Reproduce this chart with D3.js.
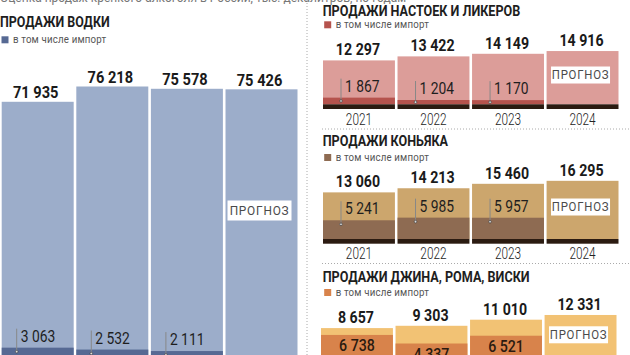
<!DOCTYPE html>
<html><head><meta charset="utf-8">
<script src="https://cdn.jsdelivr.net/npm/d3@7"></script>
<style>html,body{margin:0;padding:0;background:#fff;}svg{display:block;}</style>
</head><body>
<svg id="c" width="630" height="355"></svg>
<script>
// ---- data ----
const years = ["2021", "2022", "2023", "2024"];
const vodkaTotal = [71935, 76218, 75578, 75426];
const vodkaImport = [3063, 2532, 2111, null];
const liqueurTotal = [12297, 13422, 14149, 14916];
const liqueurImport = [1867, 1204, 1170, null];
const cognacTotal = [13060, 14213, 15460, 16295];
const cognacImport = [5241, 5985, 5957, null];
const ginTotal = [8657, 9303, 11010, 12331];
const ginImport = [6738, 4337, 6521, null];
const forecastText = "ПРОГНОЗ";
const legendText = "в том числе импорт";
const headerText = "Оценка продаж крепкого алкоголя в России, тыс. декалитров, по годам";

// ---- setup ----
const svg = d3.select("#c");
const FONT = "Roboto, 'DejaVu Sans', sans-serif";
const loc = d3.formatLocale({decimal: ",", thousands: " ", grouping: [3], currency: ["", ""]});
const fmt = loc.format(",d");
const hScale = d3.scaleLinear().domain([0, 100000]).range([0, 357]);

function txt(g, x, y, s, o) {
  o = o || {};
  return g.append("text")
    .attr("transform", `translate(${x},${y}) scale(${o.sx || 1},1)`)
    .attr("text-anchor", o.anchor || "start")
    .attr("font-family", o.family || FONT)
    .attr("font-size", o.size || 12)
    .attr("font-weight", o.weight || 400)
    .attr("letter-spacing", o.ls || 0)
    .attr("fill", o.fill || "#1e1e1e")
    .text(s);
}

// header (cropped at the top edge)
txt(svg, 0, 2, headerText, {size: 12, fill: "#777"});

// separators
svg.append("line").attr("x1", 307).attr("x2", 307).attr("y1", 0).attr("y2", 355)
  .attr("stroke", "#aaa").attr("stroke-width", 1).attr("stroke-dasharray", "1,2");
[129, 263.5].forEach(y => svg.append("line").attr("x1", 322).attr("x2", 630).attr("y1", y).attr("y2", y)
  .attr("stroke", "#aaa").attr("stroke-width", 1).attr("stroke-dasharray", "1,2"));

const panels = [
  {title: "ПРОДАЖИ ВОДКИ", total: vodkaTotal, imp: vodkaImport, big: true,
   cTotal: "#9cadca", cImp: "#566993", x0: 1.7, x1: 297.5, base: 358.6,
   titleX: 0, titleY: 26.7, titleSize: 14.5, titleSx: 0.86, legY: 43.3},
  {title: "ПРОДАЖИ НАСТОЕК И ЛИКЕРОВ", total: liqueurTotal, imp: liqueurImport,
   cTotal: "#dc9d99", cImp: "#b5534d", x0: 323, x1: 618.5, base: 104.3,
   titleX: 322.7, titleY: 16, titleSize: 14, titleSx: 0.9, legY: 28.3, stripe: true},
  {title: "ПРОДАЖИ КОНЬЯКА", total: cognacTotal, imp: cognacImport,
   cTotal: "#cca66d", cImp: "#8e6b52", x0: 323, x1: 618.5, base: 239,
   titleX: 322.7, titleY: 145.7, titleSize: 14, titleSx: 0.9, legY: 161, stripe: true},
  {title: "ПРОДАЖИ ДЖИНА, РОМА, ВИСКИ", total: ginTotal, imp: ginImport, inside: true,
   cTotal: "#f2c274", cImp: "#d8834b", x0: 321, x1: 616.5, base: 359,
   titleX: 322.7, titleY: 281.7, titleSize: 14, titleSx: 0.9, legY: 296, stripe: true}
];

panels.forEach(p => {
  const g = svg.append("g");
  const x = d3.scaleBand().domain(years).range([p.x0, p.x1]).paddingInner(0.035).paddingOuter(0);
  const bw = x.bandwidth();
  const top = v => p.base - hScale(v);

  // title + legend
  txt(g, p.titleX, p.titleY, p.title, {size: p.titleSize, weight: 700, sx: p.titleSx, fill: "#1e1e1e"});
  g.append("rect").attr("x", p.titleX + 1.5).attr("y", p.legY - 7).attr("width", 7).attr("height", 7).attr("fill", p.cImp);
  txt(g, p.titleX + 13, p.legY, legendText, {size: 11, fill: "#555", ls: 0.2, sx: 0.88});

  years.forEach((yr, i) => {
    const bx = x(yr);
    const tv = p.total[i], iv = p.imp[i];
    const ty = top(tv);
    g.append("rect").attr("x", bx).attr("y", ty).attr("width", bw).attr("height", p.base - ty).attr("fill", p.cTotal);
    let iy = null;
    if (iv != null) {
      iy = top(iv);
      g.append("rect").attr("x", bx).attr("y", iy).attr("width", bw).attr("height", p.base - iy).attr("fill", p.cImp);
    }
    if (p.stripe) {
      g.append("rect").attr("x", bx).attr("y", p.base).attr("width", bw).attr("height", 4.7).attr("fill", "#2b1b11");
      txt(g, bx + bw / 2, p.base + 20.2, yr, {size: 16, weight: 300, sx: 0.74, anchor: "middle", fill: "#222"});
    }
    txt(g, bx + bw / 2 - (p.big ? 2 : 1), ty - (p.big ? 3.5 : 5), fmt(tv),
        {size: p.big ? 17 : 16.5, weight: 700, sx: 0.86, anchor: "middle", fill: "#1a1a1a"});
    if (iv != null) {
      if (p.inside) {
        txt(g, bx + bw / 2, iy + 16.5, fmt(iv), {size: 16.5, weight: 500, sx: 0.86, anchor: "middle", fill: "#2a1a10"});
      } else {
        const lx = bx + (p.big ? 15 : 18);
        const lb = iy - 6;
        const dotY = Math.min(iy + 4, (iy + p.base) / 2);
        g.append("line").attr("x1", lx).attr("x2", lx).attr("y1", lb - 13).attr("y2", dotY)
          .attr("stroke", "#888").attr("stroke-width", 1);
        g.append("circle").attr("cx", lx).attr("cy", dotY).attr("r", 1.3).attr("fill", "#ddd").attr("stroke", "#333").attr("stroke-width", 0.6);
        txt(g, lx + 4, lb, fmt(iv), {size: 16.5, weight: 400, sx: 0.84, fill: "#1e1e1e"});
      }
    } else {
      const cy = ty + 0.45 * (p.base - ty);
      const w = p.big ? 64 : 59, h = p.big ? 20 : 17;
      const cx = bx + bw / 2 - 2;
      g.append("rect").attr("x", cx - w / 2).attr("y", cy - h / 2).attr("width", w).attr("height", h).attr("fill", "#fff");
      txt(g, cx, cy + 4.3, forecastText, {size: p.big ? 12.5 : 12, weight: 400, sx: 0.95, anchor: "middle", fill: "#4a4a4a", ls: 0.8});
    }
  });
});
</script>
</body></html>
